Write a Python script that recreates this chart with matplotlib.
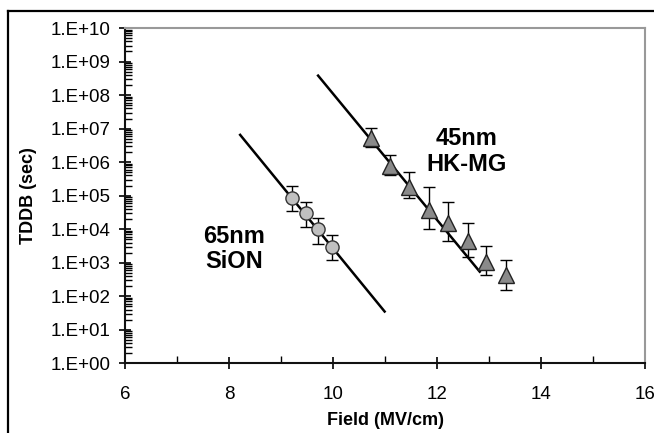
import matplotlib
matplotlib.use("Agg")
import matplotlib.pyplot as plt
import matplotlib.ticker as ticker
import numpy as np
from matplotlib.lines import Line2D

plt.rcParams['font.family'] = ['Liberation Sans', 'DejaVu Sans']

# 65nm SiON data (field in MV/cm, TDDB in sec)
sion_field = [9.21, 9.48, 9.71, 9.97]
sion_tddb = [8.7e4, 3.0e4, 9.8e3, 2.9e3]
sion_err_hi = [2.0e5, 6.5e4, 2.1e4, 6.8e3]
sion_err_lo = [3.6e4, 1.15e4, 3.6e3, 1.2e3]
sion_fit_field = [8.21, 10.99]
sion_fit_tddb = [6.5e6, 3.5e1]

# 45nm HK-MG data
hk_field = [10.72, 11.09, 11.46, 11.85, 12.21, 12.60, 12.95, 13.33]
hk_tddb = [5.2e6, 7.8e5, 1.8e5, 3.8e4, 1.5e4, 4.3e3, 1.07e3, 4.2e2]
hk_err_hi = [1.07e7, 1.66e6, 5.1e5, 1.78e5, 6.5e4, 1.5e4, 3.2e3, 1.23e3]
hk_err_lo = [2.9e6, 4.0e5, 8.7e4, 1.0e4, 4.3e3, 1.5e3, 4.4e2, 1.55e2]
hk_fit_field = [9.71, 12.82]
hk_fit_tddb = [3.8e8, 5.4e2]

fig = plt.figure(figsize=(6.54, 4.33), dpi=100)
ax = fig.add_axes([0.1916, 0.161, 0.7946, 0.7743])

# outer frame (left and top edges visible)
fig.add_artist(Line2D([0.0122, 0.0122], [0.0, 0.9746], transform=fig.transFigure,
                      color='black', lw=1.6))
fig.add_artist(Line2D([0.0122, 1.0], [0.9746, 0.9746], transform=fig.transFigure,
                      color='black', lw=1.6))

ax.plot(sion_fit_field, sion_fit_tddb, color='black', lw=1.8, zorder=2)
ax.plot(hk_fit_field, hk_fit_tddb, color='black', lw=1.8, zorder=2)

s = np.array(sion_tddb)
ax.errorbar(sion_field, sion_tddb,
            yerr=[s - np.array(sion_err_lo), np.array(sion_err_hi) - s],
            fmt='o', ms=9.5, mfc='#c0c0c0', mec='#333333', mew=1.0,
            ecolor='black', elinewidth=1.0, capsize=4, capthick=1.0, zorder=3)
h = np.array(hk_tddb)
ax.errorbar(hk_field, hk_tddb,
            yerr=[h - np.array(hk_err_lo), np.array(hk_err_hi) - h],
            fmt='^', ms=11, mfc='#8a8a8a', mec='#222222', mew=1.0,
            ecolor='black', elinewidth=1.0, capsize=4, capthick=1.0, zorder=3)

ax.set_yscale('log')
ax.set_xlim(6, 16)
ax.set_ylim(1, 1e10)

ax.yaxis.set_major_locator(ticker.LogLocator(base=10, numticks=20))
ax.yaxis.set_minor_locator(ticker.LogLocator(base=10, subs=np.arange(2, 10), numticks=20))
ax.yaxis.set_major_formatter(ticker.FuncFormatter(lambda v, p: '1.E+%02d' % int(round(np.log10(v)))))
ax.yaxis.set_minor_formatter(ticker.NullFormatter())
ax.xaxis.set_major_locator(ticker.MultipleLocator(2))
ax.xaxis.set_minor_locator(ticker.MultipleLocator(1))

ax.tick_params(which='major', direction='inout', length=9, width=1.2, labelsize=13.5, colors='black')
ax.tick_params(which='minor', direction='in', length=5, width=1.0)
ax.tick_params(axis='y', which='major', pad=6)
ax.tick_params(axis='x', which='major', pad=12)

for side in ['left', 'bottom']:
    ax.spines[side].set_color('#111111')
    ax.spines[side].set_linewidth(1.5)
for side in ['top', 'right']:
    ax.spines[side].set_color('#999999')
    ax.spines[side].set_linewidth(1.5)

ax.set_xlabel('Field (MV/cm)', fontsize=13, fontweight='bold', labelpad=6)
ax.set_ylabel('TDDB (sec)', fontsize=13, fontweight='bold', labelpad=10)

ax.text(8.09, 10**3.41, '65nm\nSiON', fontsize=17, fontweight='bold',
        ha='center', va='center', linespacing=1.15)
ax.text(12.57, 10**6.31, '45nm\nHK-MG', fontsize=17, fontweight='bold',
        ha='center', va='center', linespacing=1.15)

fig.savefig('out.png', dpi=100)
